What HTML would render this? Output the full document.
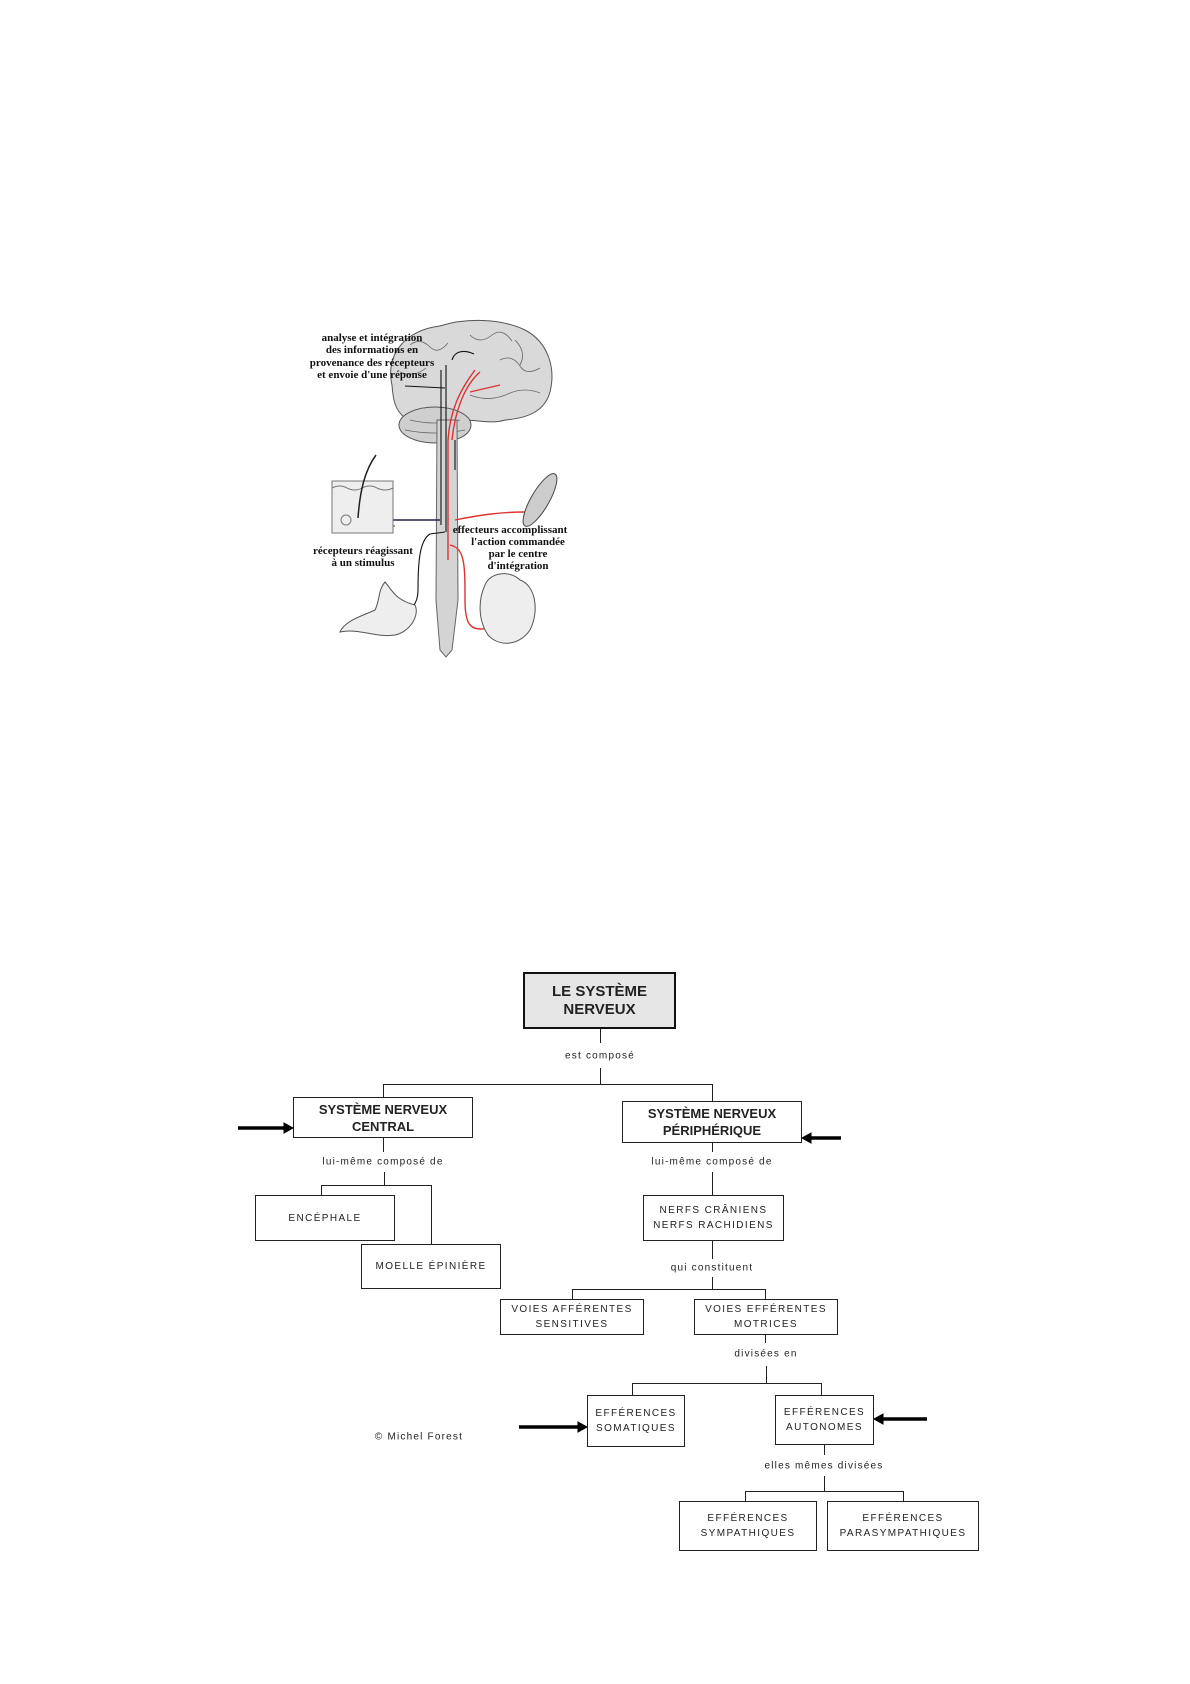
<!DOCTYPE html>
<html><head><meta charset="utf-8">
<style>
html,body{margin:0;padding:0;background:#fff;}
body{width:1190px;height:1684px;position:relative;overflow:hidden;font-family:"Liberation Sans",Arial,sans-serif;}
.b{position:absolute;border:1px solid #222;background:#fff;box-sizing:border-box;display:flex;align-items:center;justify-content:center;text-align:center;font-size:10px;letter-spacing:1.4px;line-height:15px;color:#222;}
.t{position:absolute;font-size:10px;letter-spacing:1.2px;color:#222;white-space:nowrap;transform:translate(-50%,-50%);}
.h{position:absolute;background:#222;height:1px;}
.v{position:absolute;background:#222;width:1px;}
.bold{font-weight:bold;font-size:13px;letter-spacing:0;line-height:17px;}
.ar{position:absolute;height:3px;background:#000;}
.lbl{font-family:"Liberation Serif",serif;font-weight:bold;font-size:11px;fill:#111;}
</style></head><body>

<svg style="position:absolute;left:0;top:0" width="1190" height="700">
  <!-- brain -->
  <path d="M392,385 C385,355 405,330 440,326 C465,318 500,318 525,330 C548,342 556,368 550,392 C545,410 530,418 505,420 C490,425 470,418 455,420 C440,426 420,425 405,418 C395,410 393,400 392,385 Z" fill="#d9d9d9" stroke="#555" stroke-width="1"/>
  <ellipse cx="435" cy="425" rx="36" ry="18" fill="#cfcfcf" stroke="#555"/>
  <g stroke="#666" fill="none" stroke-width="0.8">
    <path d="M410,345 q10,-8 20,2 q8,8 18,-4"/><path d="M470,335 q10,10 22,0 q10,-8 20,6"/>
    <path d="M500,360 q12,-6 20,6 q6,10 20,2"/><path d="M400,372 q14,6 26,-4"/>
    <path d="M470,395 q20,8 40,-2 q15,-6 30,0"/><path d="M515,340 q12,12 5,25"/>
    <path d="M410,420 q25,6 50,0"/><path d="M405,430 q30,6 60,0"/>
  </g>
  <!-- spinal cord -->
  <path d="M437,420 L457,420 L458,600 L452,650 L446,657 L440,650 L436,600 Z" fill="#d4d4d4" stroke="#666"/>
  <!-- nerve lines -->
  <g stroke="#111" fill="none" stroke-width="1.1">
    <path d="M441,370 L441,525"/><path d="M446,365 L446,532"/><path d="M452,360 C455,350 465,350 474,354"/>
    <path d="M405,386 L445,388"/><path d="M455,440 L455,470"/>
    <path d="M360,520 L440,520"/><path d="M445,532 L430,534 C420,540 418,560 418,590 C418,605 410,612 400,612"/>
  </g>
  <line x1="360" y1="520" x2="440" y2="520" stroke="#224" stroke-width="1.6"/>
  <line x1="375" y1="526" x2="395" y2="526" stroke="#335" stroke-width="1"/>
  <g stroke="#d33" fill="none" stroke-width="1.4">
    <path d="M448,560 L448,440 C450,410 460,390 475,370"/><path d="M452,440 C455,410 465,385 480,372"/>
    <path d="M455,520 C480,515 500,512 525,512"/>
    <path d="M450,545 C465,548 465,565 465,600 C465,625 470,632 490,628"/>
    <path d="M470,392 L500,385"/>
  </g>
  <!-- skin box -->
  <rect x="332" y="481" width="61" height="52" fill="#eee" stroke="#777"/>
  <path d="M332,488 q8,-4 15,0 q8,4 15,0 q8,-4 15,0 q8,4 16,0" stroke="#777" fill="none"/>
  <path d="M376,455 C365,470 360,490 358,518" stroke="#222" fill="none" stroke-width="1.5"/>
  <circle cx="346" cy="520" r="5" fill="none" stroke="#777"/>
  <!-- muscle -->
  <ellipse cx="540" cy="500" rx="9" ry="30" transform="rotate(30 540 500)" fill="#ccc" stroke="#444"/>
  <!-- heart -->
  <path d="M485,585 C490,572 510,570 520,580 C535,585 540,610 530,630 C520,645 500,648 488,635 C478,620 478,600 485,585 Z" fill="#eee" stroke="#555"/>
  <!-- stomach -->
  <path d="M385,582 C392,590 395,600 415,605 C420,615 410,632 395,635 C375,638 360,628 340,632 C345,620 365,615 375,610 C380,600 378,590 385,582 Z" fill="#eee" stroke="#555"/>
  <!-- labels -->
  <g class="lbl" text-anchor="middle">
    <text x="372" y="341">analyse et intégration</text>
    <text x="372" y="353">des informations en</text>
    <text x="372" y="366">provenance des récepteurs</text>
    <text x="372" y="378">et envoie d'une réponse</text>
    <text x="363" y="554">récepteurs réagissant</text>
    <text x="363" y="566">à un stimulus</text>
    <text x="510" y="533">effecteurs accomplissant</text>
    <text x="518" y="545">l'action commandée</text>
    <text x="518" y="557">par le centre</text>
    <text x="518" y="569">d'intégration</text>
  </g>
</svg>

<!-- connectors -->
<div class="v" style="left:600px;top:1029px;height:14px"></div>
<div class="v" style="left:600px;top:1068px;height:16px"></div>
<div class="h" style="left:383px;top:1084px;width:330px"></div>
<div class="v" style="left:383px;top:1084px;height:13px"></div>
<div class="v" style="left:712px;top:1084px;height:17px"></div>

<div class="v" style="left:383px;top:1138px;height:14px"></div>
<div class="v" style="left:384px;top:1172px;height:13px"></div>
<div class="h" style="left:321px;top:1185px;width:111px"></div>
<div class="v" style="left:321px;top:1185px;height:10px"></div>
<div class="v" style="left:431px;top:1185px;height:59px"></div>

<div class="v" style="left:712px;top:1143px;height:9px"></div>
<div class="v" style="left:712px;top:1172px;height:23px"></div>
<div class="v" style="left:712px;top:1241px;height:18px"></div>
<div class="v" style="left:712px;top:1277px;height:12px"></div>
<div class="h" style="left:572px;top:1289px;width:194px"></div>
<div class="v" style="left:572px;top:1289px;height:10px"></div>
<div class="v" style="left:765px;top:1289px;height:10px"></div>

<div class="v" style="left:765px;top:1335px;height:8px"></div>
<div class="v" style="left:766px;top:1366px;height:17px"></div>
<div class="h" style="left:632px;top:1383px;width:190px"></div>
<div class="v" style="left:632px;top:1383px;height:12px"></div>
<div class="v" style="left:821px;top:1383px;height:12px"></div>

<div class="v" style="left:824px;top:1445px;height:10px"></div>
<div class="v" style="left:824px;top:1476px;height:15px"></div>
<div class="h" style="left:745px;top:1491px;width:159px"></div>
<div class="v" style="left:745px;top:1491px;height:10px"></div>
<div class="v" style="left:903px;top:1491px;height:10px"></div>

<!-- boxes -->
<div class="b" style="left:523px;top:972px;width:153px;height:57px;background:#e6e6e6;border:2px solid #111;font-weight:bold;font-size:15px;letter-spacing:0;line-height:18px;">LE SYSTÈME<br>NERVEUX</div>
<div class="b bold" style="left:293px;top:1097px;width:180px;height:41px;">SYSTÈME NERVEUX<br>CENTRAL</div>
<div class="b bold" style="left:622px;top:1101px;width:180px;height:42px;">SYSTÈME NERVEUX<br>PÉRIPHÉRIQUE</div>
<div class="b" style="left:255px;top:1195px;width:140px;height:46px;">ENCÉPHALE</div>
<div class="b" style="left:361px;top:1244px;width:140px;height:45px;">MOELLE ÉPINIÈRE</div>
<div class="b" style="left:643px;top:1195px;width:141px;height:46px;">NERFS CRÂNIENS<br>NERFS RACHIDIENS</div>
<div class="b" style="left:500px;top:1299px;width:144px;height:36px;">VOIES AFFÉRENTES<br>SENSITIVES</div>
<div class="b" style="left:694px;top:1299px;width:144px;height:36px;">VOIES EFFÉRENTES<br>MOTRICES</div>
<div class="b" style="left:587px;top:1395px;width:98px;height:52px;">EFFÉRENCES<br>SOMATIQUES</div>
<div class="b" style="left:775px;top:1395px;width:99px;height:50px;">EFFÉRENCES<br>AUTONOMES</div>
<div class="b" style="left:679px;top:1501px;width:138px;height:50px;">EFFÉRENCES<br>SYMPATHIQUES</div>
<div class="b" style="left:827px;top:1501px;width:152px;height:50px;">EFFÉRENCES<br>PARASYMPATHIQUES</div>

<!-- labels -->
<div class="t" style="left:600px;top:1056px;">est composé</div>
<div class="t" style="left:383px;top:1162px;">lui-même composé de</div>
<div class="t" style="left:712px;top:1162px;">lui-même composé de</div>
<div class="t" style="left:712px;top:1268px;">qui constituent</div>
<div class="t" style="left:766px;top:1354px;">divisées en</div>
<div class="t" style="left:824px;top:1466px;">elles mêmes divisées</div>
<div class="t" style="left:419px;top:1437px;">© Michel Forest</div>

<!-- arrows -->
<svg style="position:absolute;left:0;top:0" width="1190" height="1684">
  <g fill="#000" stroke="#000">
    <line x1="238" y1="1128" x2="285" y2="1128" stroke-width="3.5"/>
    <polygon points="284,1123 293,1128 284,1133"/>
    <line x1="841" y1="1138" x2="810" y2="1138" stroke-width="3.5"/>
    <polygon points="811,1133 802,1138 811,1143"/>
    <line x1="519" y1="1427" x2="579" y2="1427" stroke-width="3.5"/>
    <polygon points="578,1422 587,1427 578,1432"/>
    <line x1="927" y1="1419" x2="882" y2="1419" stroke-width="3.5"/>
    <polygon points="883,1414 874,1419 883,1424"/>
  </g>
</svg>
</body></html>
